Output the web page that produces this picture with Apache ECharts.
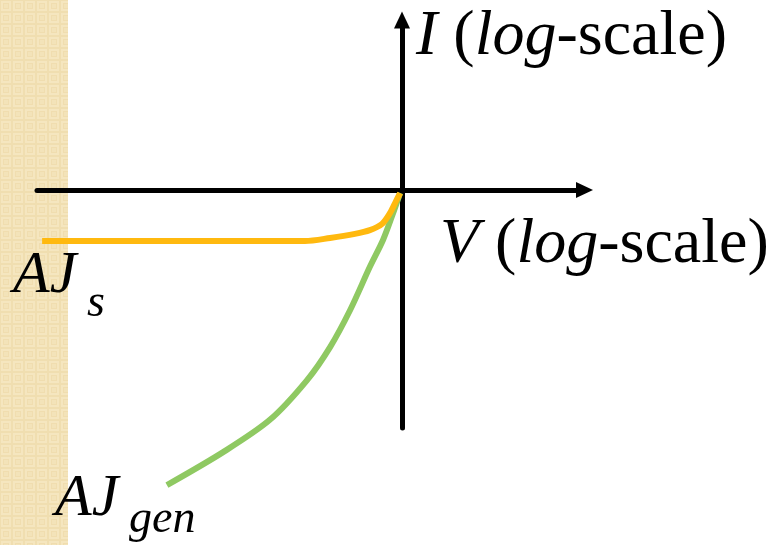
<!DOCTYPE html>
<html>
<head>
<meta charset="utf-8">
<script src="https://cdn.jsdelivr.net/npm/echarts@6/dist/echarts.min.js"></script>
<style>
  html, body { margin: 0; padding: 0; background: #fff; }
  #chart { width: 771px; height: 545px; }
</style>
</head>
<body>
<div id="chart"></div>
<script>
// Saturation-current branch (AJ_s), in axis units
const satV = [-9.86, -2.66, -1.97, -1.29, -0.88, -0.55, -0.33, -0.16, -0.05];
const satI = [-1.5, -1.5, -1.41, -1.29, -1.18, -1.0, -0.68, -0.32, -0.09];
// Generation-current branch (AJ_gen), in axis units
const genV = [-6.44, -4.90, -3.62, -2.60, -1.97, -1.42, -0.88, -0.52, -0.27, -0.05];
const genI = [-8.68, -7.71, -6.76, -5.59, -4.62, -3.53, -2.26, -1.47, -0.76, -0.09];
// Axis extents
const vRange = [-10, 5];
const iRange = [-7, 5];

const pairs = (xs, ys) => xs.map((x, k) => [x, ys[k]]);

// Small soft woven tile for the beige side strip
function makeTile() {
  const c = document.createElement('canvas');
  c.width = 12; c.height = 12;
  const g = c.getContext('2d');
  g.fillStyle = '#F0DEB0'; g.fillRect(0, 0, 12, 12);
  g.fillStyle = '#F5E6BF'; g.fillRect(1, 1, 10, 10);
  g.fillStyle = '#F0DDAF'; g.fillRect(3, 3, 6, 6);
  g.fillStyle = '#F3E3B9'; g.fillRect(4, 4, 4, 4);
  return c;
}

const chart = echarts.init(document.getElementById('chart'), null, { renderer: 'canvas' });
const serif = '"Liberation Serif", "Times New Roman", serif';
const axisCommon = {
  type: 'value',
  axisTick: { show: false },
  axisLabel: { show: false },
  splitLine: { show: false },
  axisLine: {
    show: true,
    onZero: true,
    symbol: ['none', 'triangle'],
    symbolSize: [16, 17],
    lineStyle: { color: '#000', width: 5 }
  }
};
const italicRich = { i: { fontStyle: 'italic', fontSize: 64, fontFamily: serif } };

chart.setOption({
  animation: false,
  backgroundColor: '#fff',
  grid: { left: 37, right: 186.5, top: 20, bottom: 117 },
  xAxis: Object.assign({}, axisCommon, { min: vRange[0], max: vRange[1] }),
  yAxis: Object.assign({}, axisCommon, { min: iRange[0], max: iRange[1] }),
  graphic: [
    {
      type: 'rect', z: -10, silent: true,
      shape: { x: 0, y: 0, width: 68, height: 545 },
      style: { fill: { image: makeTile(), repeat: 'repeat' } }
    },
    {
      type: 'text', z: 10,
      style: {
        x: 416, y: 69, verticalAlign: 'bottom',
        text: '{i|I} ({i|log}-scale)',
        font: '64px ' + serif, fill: '#000', rich: italicRich
      }
    },
    {
      type: 'text', z: 10,
      style: {
        x: 440, y: 277, verticalAlign: 'bottom',
        text: '{i|V} ({i|log}-scale)',
        font: '64px ' + serif, fill: '#000', rich: italicRich
      }
    },
    {
      type: 'text', z: 10,
      style: { x: 13, y: 306, verticalAlign: 'bottom', text: 'AJ', font: 'italic 60px ' + serif, fill: '#000' }
    },
    {
      type: 'text', z: 10,
      style: { x: 87, y: 327, verticalAlign: 'bottom', text: 's', font: 'italic 46px ' + serif, fill: '#000' }
    },
    {
      type: 'text', z: 10,
      style: { x: 55, y: 529, verticalAlign: 'bottom', text: 'AJ', font: 'italic 60px ' + serif, fill: '#000' }
    },
    {
      type: 'text', z: 10,
      style: { x: 129, y: 543, verticalAlign: 'bottom', text: 'gen', font: 'italic 46px ' + serif, fill: '#000' }
    }
  ],
  series: [
    {
      type: 'line', name: 'AJs', data: pairs(satV, satI),
      showSymbol: false, clip: false, smooth: 0.3,
      lineStyle: { color: '#FFB90F', width: 6 }, z: 3
    },
    {
      type: 'line', name: 'AJgen', data: pairs(genV, genI),
      showSymbol: false, clip: false, smooth: 0.3,
      lineStyle: { color: '#8FC962', width: 6 }, z: 2
    }
  ]
});
</script>
</body>
</html>
